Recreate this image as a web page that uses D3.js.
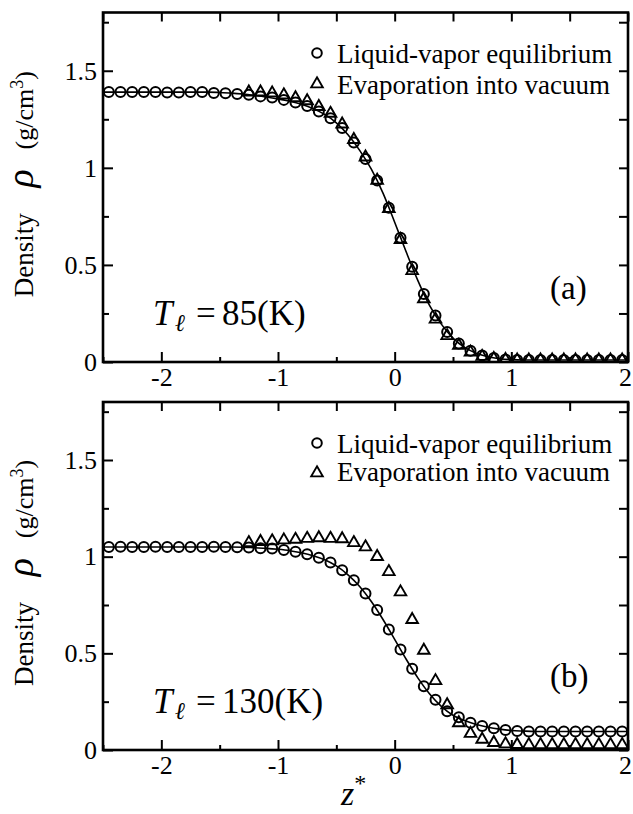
<!DOCTYPE html>
<html>
<head>
<meta charset="utf-8">
<script src="https://cdn.jsdelivr.net/npm/d3@7"></script>
<style>
  body { margin: 0; background: #fff; }
  svg { display: block; }
  svg text { font-family: "Liberation Serif", "Times New Roman", Times, "DejaVu Serif", serif; fill: #000; }
</style>
</head>
<body>
<svg id="chart" width="633" height="814"></svg>
<script>
// Positions (z*) of the sampled bins for the equilibrium run
const zEquilibrium = [
  -2.45, -2.35, -2.25, -2.15, -2.05, -1.95, -1.85, -1.75, -1.65, -1.55, -1.45, -1.35,
  -1.25, -1.15, -1.05, -0.95, -0.85, -0.75, -0.65, -0.55, -0.45, -0.35, -0.25, -0.15,
  -0.05, 0.05, 0.15, 0.25, 0.35, 0.45, 0.55, 0.65, 0.75, 0.85, 0.95, 1.05,
  1.15, 1.25, 1.35, 1.45, 1.55, 1.65, 1.75, 1.85, 1.95
];
// Positions of the sampled bins for the evaporation-into-vacuum run
const zVacuum = [
  -1.25, -1.15, -1.05, -0.95, -0.85, -0.75, -0.65, -0.55, -0.45, -0.35, -0.25, -0.15,
  -0.05, 0.05, 0.15, 0.25, 0.35, 0.45, 0.55, 0.65, 0.75, 0.85, 0.95, 1.05,
  1.15, 1.25, 1.35, 1.45, 1.55, 1.65, 1.75, 1.85, 1.95
];
// Positions of the fitted density profile
const zFit = [
  -2.5, -2.4, -2.3, -2.2, -2.1, -2.0, -1.9, -1.8, -1.7, -1.6, -1.5, -1.4, -1.3, -1.2,
  -1.1, -1.0, -0.9, -0.8, -0.7, -0.6, -0.5, -0.4, -0.3, -0.2, -0.1, 0.0, 0.1, 0.2,
  0.3, 0.4, 0.5, 0.6, 0.7, 0.8, 0.9, 1.0, 1.1, 1.2, 1.3, 1.4, 1.5, 1.6, 1.7, 1.8, 1.9, 2.0
];

// T = 85 K  (g/cm^3)
const equilibrium85 = [
  1.39, 1.39, 1.39, 1.39, 1.39, 1.388, 1.388, 1.39, 1.39, 1.386, 1.384, 1.38,
  1.376, 1.368, 1.362, 1.35, 1.336, 1.318, 1.29, 1.255, 1.205, 1.13, 1.045, 0.935,
  0.795, 0.64, 0.49, 0.35, 0.24, 0.155, 0.095, 0.058, 0.034, 0.02, 0.013, 0.01,
  0.01, 0.01, 0.01, 0.01, 0.01, 0.01, 0.01, 0.01, 0.01
];
const vacuum85 = [
  1.39, 1.39, 1.385, 1.375, 1.36, 1.345, 1.315, 1.28, 1.225, 1.145, 1.055, 0.935,
  0.79, 0.63, 0.47, 0.325, 0.22, 0.135, 0.085, 0.05, 0.028, 0.017, 0.012, 0.01,
  0.01, 0.01, 0.01, 0.01, 0.01, 0.01, 0.01, 0.01, 0.01
];
const fit85 = [
  1.39, 1.39, 1.39, 1.39, 1.39, 1.39, 1.39, 1.39, 1.39, 1.39, 1.388, 1.385, 1.38, 1.373,
  1.365, 1.355, 1.343, 1.327, 1.305, 1.275, 1.232, 1.17, 1.09, 0.993, 0.87, 0.72, 0.565, 0.418,
  0.29, 0.195, 0.123, 0.075, 0.045, 0.027, 0.017, 0.012, 0.01, 0.01, 0.01, 0.01, 0.01, 0.01,
  0.01, 0.01, 0.01, 0.01
];

// T = 130 K  (g/cm^3)
const equilibrium130 = [
  1.05, 1.051, 1.05, 1.05, 1.051, 1.05, 1.05, 1.05, 1.05, 1.051, 1.05, 1.049,
  1.048, 1.044, 1.042, 1.035, 1.026, 1.013, 0.995, 0.97, 0.93, 0.878, 0.81, 0.724,
  0.623, 0.52, 0.42, 0.33, 0.26, 0.2, 0.17, 0.141, 0.124, 0.112, 0.103, 0.098,
  0.096, 0.096, 0.096, 0.096, 0.096, 0.096, 0.096, 0.096, 0.096
];
const vacuum130 = [
  1.072, 1.078, 1.081, 1.086, 1.089, 1.094, 1.097, 1.094, 1.092, 1.072, 1.05, 1.0,
  0.922, 0.817, 0.674, 0.515, 0.358, 0.233, 0.14, 0.085, 0.055, 0.038, 0.031, 0.028,
  0.027, 0.027, 0.027, 0.027, 0.027, 0.027, 0.027, 0.027, 0.027
];
const fit130 = [
  1.05, 1.05, 1.05, 1.05, 1.05, 1.05, 1.05, 1.05, 1.05, 1.05, 1.05, 1.05, 1.049, 1.046,
  1.043, 1.038, 1.031, 1.02, 1.005, 0.984, 0.952, 0.906, 0.846, 0.768, 0.675, 0.572, 0.468, 0.372,
  0.29, 0.226, 0.18, 0.152, 0.132, 0.118, 0.108, 0.101, 0.098, 0.096, 0.096, 0.096, 0.096, 0.096,
  0.096, 0.096, 0.096, 0.096
];

const xMajorTicks = [-2, -1, 0, 1, 2];
const xMinorTicks = [-2.5, -1.5, -0.5, 0.5, 1.5];
const yMajorTicks = [0, 0.5, 1, 1.5];
const yMinorTicks = [0.25, 0.75, 1.25, 1.75];
const legendLabels = ["Liquid-vapor equilibrium", "Evaporation into vacuum"];
const panelTags = ["(a)", "(b)"];
const temperatures = ["85", "130"];

const svg = d3.select("#chart");

const panels = [
  { top: 12.5, bottom: 362, eq: equilibrium85, vac: vacuum85, fit: fit85,
    tag: panelTags[0], temp: temperatures[0], legendY: [53, 84], legendBase: [63, 94] },
  { top: 402, bottom: 750, eq: equilibrium130, vac: vacuum130, fit: fit130,
    tag: panelTags[1], temp: temperatures[1], legendY: [443, 473], legendBase: [453, 481] }
];

const left = 103, right = 628;
const x = d3.scaleLinear().domain([-2.5, 2]).range([left, right]);

const triangle = d3.symbol().type(d3.symbolTriangle).size(58);

function styleAxis(g, fontSize) {
  g.select(".domain").remove();
  g.selectAll("line").attr("stroke", "#000").attr("stroke-width", 2);
  g.selectAll("text")
    .attr("fill", "#000")
    .attr("font-family", null)
    .attr("font-size", fontSize);
}

panels.forEach((p, i) => {
  const y = d3.scaleLinear().domain([0, 1.8]).range([p.bottom, p.top]);
  const g = svg.append("g");
  const clipId = "clip" + i;
  svg.append("clipPath").attr("id", clipId)
    .append("rect").attr("x", left).attr("y", p.top)
    .attr("width", right - left).attr("height", p.bottom - p.top);

  // Bottom axis: labelled majors, short minors (inward)
  g.append("g").attr("transform", `translate(0,${p.bottom})`)
    .call(d3.axisBottom(x).tickValues(xMajorTicks).tickSizeInner(-10).tickSizeOuter(0)
      .tickPadding(6).tickFormat(d => (d < 0 ? "-" + Math.abs(d) : String(d))))
    .call(a => styleAxis(a, 26))
    .call(a => a.selectAll("text").filter(d => d === 2).attr("dx", -3));
  g.append("g").attr("transform", `translate(0,${p.bottom})`)
    .call(d3.axisBottom(x).tickValues(xMinorTicks).tickSizeInner(-5).tickSizeOuter(0).tickFormat(""))
    .call(a => styleAxis(a, 26));
  // Top axis: mirrored ticks, no labels
  g.append("g").attr("transform", `translate(0,${p.top})`)
    .call(d3.axisTop(x).tickValues(xMajorTicks.concat(xMinorTicks)).tickSizeInner(-9).tickSizeOuter(0).tickFormat(""))
    .call(a => styleAxis(a, 26));

  // Left axis
  g.append("g").attr("transform", `translate(${left},0)`)
    .call(d3.axisLeft(y).tickValues(yMajorTicks).tickSizeInner(-10).tickSizeOuter(0)
      .tickPadding(6).tickFormat(d => String(d)))
    .call(a => styleAxis(a, 26));
  g.append("g").attr("transform", `translate(${left},0)`)
    .call(d3.axisLeft(y).tickValues(yMinorTicks).tickSizeInner(-6).tickSizeOuter(0).tickFormat(""))
    .call(a => styleAxis(a, 26));
  // Right axis: mirrored ticks
  g.append("g").attr("transform", `translate(${right},0)`)
    .call(d3.axisRight(y).tickValues(yMajorTicks.concat(yMinorTicks)).tickSizeInner(-9).tickSizeOuter(0).tickFormat(""))
    .call(a => styleAxis(a, 26));

  // Frame
  g.append("rect").attr("x", left).attr("y", p.top)
    .attr("width", right - left).attr("height", p.bottom - p.top)
    .attr("fill", "none").attr("stroke", "#000").attr("stroke-width", 2.6);

  const plot = g.append("g").attr("clip-path", `url(#${clipId})`);

  // Fitted profile
  const line = d3.line().x((d, k) => x(zFit[k])).y(d => y(d)).curve(d3.curveMonotoneX);
  plot.append("path").datum(p.fit)
    .attr("d", line).attr("fill", "none").attr("stroke", "#000").attr("stroke-width", 1.6);

  // Liquid-vapor equilibrium markers
  plot.selectAll(".eq").data(p.eq).join("circle")
    .attr("cx", (d, k) => x(zEquilibrium[k])).attr("cy", d => y(d)).attr("r", 5)
    .attr("fill", "none").attr("stroke", "#000").attr("stroke-width", 2);

  // Evaporation-into-vacuum markers
  plot.selectAll(".vac").data(p.vac).join("path")
    .attr("d", triangle)
    .attr("transform", (d, k) => `translate(${x(zVacuum[k])},${y(d)})`)
    .attr("fill", "none").attr("stroke", "#000").attr("stroke-width", 1.9);

  // Legend
  const lg = g.append("g");
  lg.append("circle").attr("cx", 317).attr("cy", p.legendY[0]).attr("r", 4.8)
    .attr("fill", "none").attr("stroke", "#000").attr("stroke-width", 2);
  lg.append("path").attr("d", triangle)
    .attr("transform", `translate(317,${p.legendY[1]})`)
    .attr("fill", "none").attr("stroke", "#000").attr("stroke-width", 1.9);
  legendLabels.forEach((t, k) => {
    lg.append("text").attr("x", 337).attr("y", p.legendBase[k])
      .attr("font-size", 27).text(t);
  });

  // Panel tag
  g.append("text").attr("x", 550).attr("y", p.bottom - 63)
    .attr("font-size", 33).text(p.tag);

  // Temperature label  T_l = ..(K)
  const tl = g.append("text").attr("y", p.bottom - 37).attr("font-size", 35);
  tl.append("tspan").attr("x", 153).attr("font-style", "italic").text("T");
  tl.append("tspan").attr("x", 175).attr("dy", 6).attr("font-style", "italic")
    .attr("font-size", 24).text("\u2113");
  tl.append("tspan").attr("x", 196).attr("dy", -6).text("=");
  tl.append("tspan").attr("x", 222).text(p.temp + "(K)");

  // Y-axis title
  const cy = (p.top + p.bottom) / 2;
  const yt = g.append("g").attr("transform", `translate(33,${cy}) rotate(-90)`);
  yt.append("text").attr("x", -68).attr("text-anchor", "middle")
    .attr("font-size", 27).text("Density");
  yt.append("text").attr("x", 9).attr("text-anchor", "middle")
    .attr("font-size", 38).attr("font-style", "italic").text("\u03C1");
  const unit = yt.append("text").attr("x", 77).attr("text-anchor", "middle")
    .attr("font-size", 26);
  unit.append("tspan").text("(g/cm");
  unit.append("tspan").attr("dy", -10).attr("font-size", 18).text("3");
  unit.append("tspan").attr("dy", 10).text(")");
});

// X-axis title z*
const xt = svg.append("text").attr("x", 341).attr("y", 805).attr("font-size", 34);
xt.append("tspan").attr("font-style", "italic").text("z");
xt.append("tspan").attr("dy", -14).attr("font-size", 24).text("*");
</script>
</body>
</html>
